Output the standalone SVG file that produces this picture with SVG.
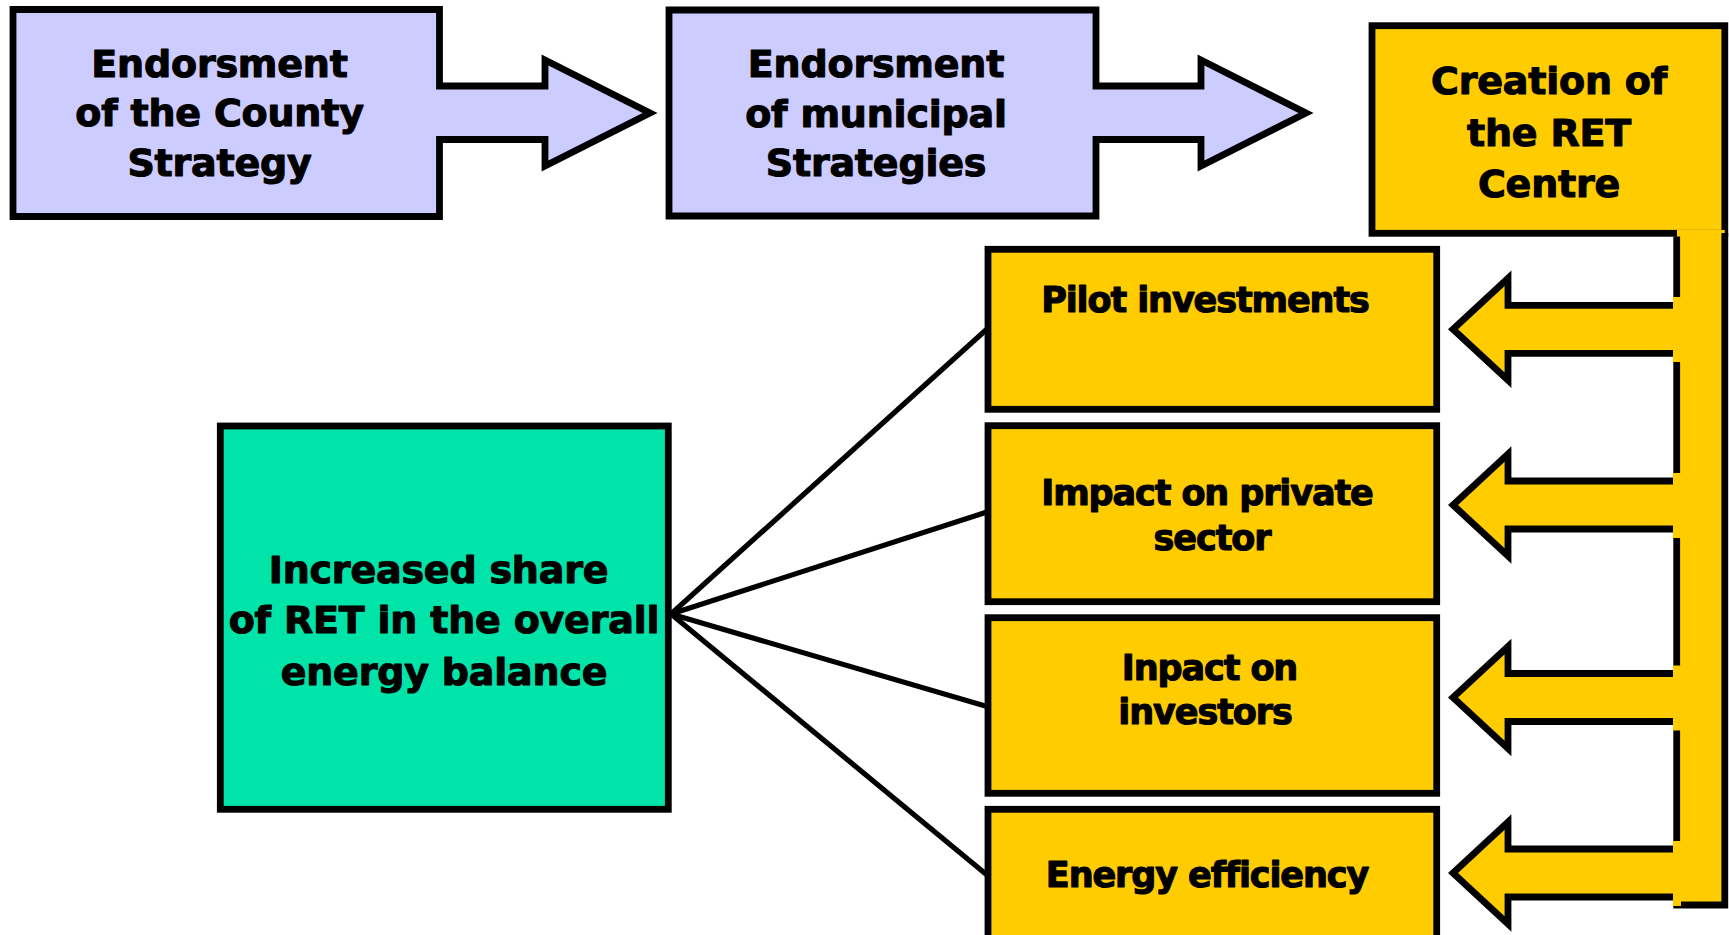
<svg xmlns="http://www.w3.org/2000/svg" width="1729" height="935" viewBox="0 0 1729 935">
<style>
.ln{fill:none;stroke:#000;stroke-width:6.8;stroke-linejoin:miter;stroke-miterlimit:10}
.lav{fill:#CCCCFF}
.yel{fill:#FFCC00}
.grn{fill:#00E3A9}
.conn{stroke:#000;stroke-width:5.2;fill:none}
.t{font-family:"DejaVu Sans","Verdana",sans-serif;font-weight:bold;fill:#000;stroke:#000;stroke-width:1.1px;stroke-linejoin:round;text-anchor:middle}
.big{font-size:38px;letter-spacing:-0.2px}
.sm{font-size:35px;letter-spacing:-1.1px}
</style>
<rect width="1729" height="935" fill="#fff"/>

<g id="connectors">
<line class="conn" x1="671" y1="614" x2="987" y2="329"/>
<line class="conn" x1="671" y1="614" x2="987" y2="512"/>
<line class="conn" x1="671" y1="614" x2="987" y2="706.5"/>
<line class="conn" x1="671" y1="614" x2="987" y2="875"/>
</g>

<g id="county">
<path class="lav ln" d="M13 9.5 H439.5 V86 H545 V60 L650 113 L545 166 V139.5 H439.5 V216.5 H13 Z"/>
<text class="t big" x="219.5" y="76.5">Endorsment</text>
<text class="t big" x="219.5" y="126">of the County</text>
<text class="t big" x="219.5" y="175.5">Strategy</text>
</g>

<g id="municipal">
<path class="lav ln" d="M669 10 H1096 V86 H1201 V60 L1306 113 L1201 166 V139.5 H1096 V216 H669 Z"/>
<text class="t big" x="876" y="76.5">Endorsment</text>
<text class="t big" x="876" y="127">of municipal</text>
<text class="t big" x="876" y="176">Strategies</text>
</g>

<g id="ret-centre">
<rect class="yel ln" x="1372" y="25.7" width="352.8" height="207.6"/>
<text class="t big" x="1549" y="94">Creation of</text>
<text class="t big" x="1549" y="145.5">the RET</text>
<text class="t big" x="1549" y="197">Centre</text>
</g>

<g id="bar">
<rect x="1677" y="230" width="47.8" height="675" fill="#FFCC00"/>
<path d="M1676.7 236.5 V905 H1724.8 V233" fill="none" stroke="#000" stroke-width="6.8" stroke-linejoin="miter"/>
</g>

<g id="arrow-pilot">
<path class="yel" d="M1681 305.3 H1508 V278.3 L1453 329.3 L1508 380.3 V353.3 H1681 Z"/>
<path class="ln" d="M1673.5 305.3 H1508 V278.3 L1453 329.3 L1508 380.3 V353.3 H1673.5"/>
<rect x="1673" y="297" width="8" height="65" fill="#FFCC00"/>
</g>
<g id="arrow-private">
<path class="yel" d="M1681 481 H1508 V454 L1453 505 L1508 556 V529 H1681 Z"/>
<path class="ln" d="M1673.5 481 H1508 V454 L1453 505 L1508 556 V529 H1673.5"/>
<rect x="1673" y="473" width="8" height="65" fill="#FFCC00"/>
</g>
<g id="arrow-investors">
<path class="yel" d="M1681 673.5 H1508 V646.5 L1453 697.5 L1508 748.5 V721.5 H1681 Z"/>
<path class="ln" d="M1673.5 673.5 H1508 V646.5 L1453 697.5 L1508 748.5 V721.5 H1673.5"/>
<rect x="1673" y="665.5" width="8" height="65" fill="#FFCC00"/>
</g>
<g id="arrow-energy">
<path class="yel" d="M1681 849 H1508 V822 L1453 873 L1508 924 V897 H1681 Z"/>
<path class="ln" d="M1673.5 849 H1508 V822 L1453 873 L1508 924 V897 H1673.5"/>
<rect x="1673" y="841" width="8" height="65" fill="#FFCC00"/>
</g>

<g id="pilot">
<rect class="yel ln" x="988" y="249.3" width="448.7" height="160"/>
<text class="t sm" x="1205" y="311.7">Pilot investments</text>
</g>

<g id="private">
<rect class="yel ln" x="988" y="425.7" width="448.7" height="176"/>
<text class="t sm" x="1207" y="505">Impact on private</text>
<text class="t sm" x="1212" y="550">sector</text>
</g>

<g id="investors">
<rect class="yel ln" x="988" y="617.7" width="448.7" height="175.6"/>
<text class="t sm" x="1209.5" y="680">Inpact on</text>
<text class="t sm" x="1205" y="724">investors</text>
</g>

<g id="efficiency">
<rect class="yel ln" x="988" y="809.3" width="448.7" height="200"/>
<text class="t sm" x="1207" y="887">Energy efficiency</text>
</g>

<g id="balance">
<rect class="grn ln" x="220.3" y="426" width="448" height="383.3"/>
<text class="t big" x="438.5" y="582.7">Increased share</text>
<text class="t big" x="444" y="633.3">of RET in the overall</text>
<text class="t big" x="444" y="685">energy balance</text>
</g>
</svg>
